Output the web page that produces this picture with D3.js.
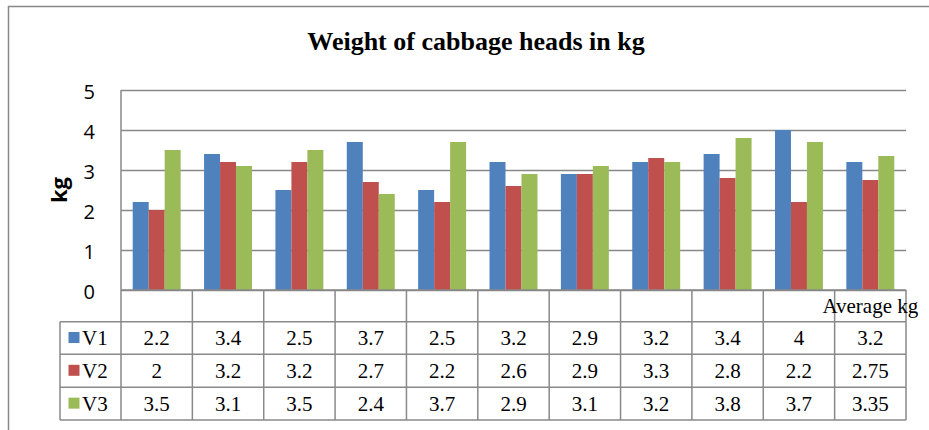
<!DOCTYPE html>
<html>
<head>
<meta charset="utf-8">
<script src="https://cdn.jsdelivr.net/npm/d3@7/dist/d3.min.js"></script>
<style>
  html, body { margin: 0; padding: 0; background: #fff; }
  svg { display: block; }
</style>
</head>
<body>
<svg id="chart" width="929" height="430"></svg>
<script>
// ---- data ----
const title = "Weight of cabbage heads in kg";
const yTitle = "kg";
const categories = ["", "", "", "", "", "", "", "", "", "", "Average kg"];
const seriesNames = ["V1", "V2", "V3"];
const v1 = [2.2, 3.4, 2.5, 3.7, 2.5, 3.2, 2.9, 3.2, 3.4, 4, 3.2];
const v2 = [2, 3.2, 3.2, 2.7, 2.2, 2.6, 2.9, 3.3, 2.8, 2.2, 2.75];
const v3 = [3.5, 3.1, 3.5, 2.4, 3.7, 2.9, 3.1, 3.2, 3.8, 3.7, 3.35];
const v1Labels = ["2.2", "3.4", "2.5", "3.7", "2.5", "3.2", "2.9", "3.2", "3.4", "4", "3.2"];
const v2Labels = ["2", "3.2", "3.2", "2.7", "2.2", "2.6", "2.9", "3.3", "2.8", "2.2", "2.75"];
const v3Labels = ["3.5", "3.1", "3.5", "2.4", "3.7", "2.9", "3.1", "3.2", "3.8", "3.7", "3.35"];
const yTicks = [0, 1, 2, 3, 4, 5];
const colors = ["#4F81BD", "#C0504D", "#9BBB59"];

const seriesValues = [v1, v2, v3];
const seriesLabels = [v1Labels, v2Labels, v3Labels];

// ---- layout ----
const svg = d3.select("#chart");
const plotLeft = 121, plotRight = 906, plotTop = 90, plotBottom = 290;
const tableLeft = 60;
const rowEdges = [290, 321.7, 354.3, 387.3, 420];
const gridColor = "#898989";
const serif = "'Liberation Serif', 'Times New Roman', serif";
const sans = "'Open Sans', 'Noto Sans', sans-serif";

// outer border
svg.append("rect")
  .attr("x", 8.5).attr("y", 6.5).attr("width", 940).attr("height", 440)
  .attr("fill", "none").attr("stroke", gridColor).attr("stroke-width", 1.5);

// title
svg.append("text")
  .attr("x", 476).attr("y", 50)
  .attr("text-anchor", "middle")
  .attr("font-family", serif).attr("font-weight", "bold").attr("font-size", 26)
  .attr("fill", "#000")
  .text(title);

// scales
const x = d3.scaleBand().domain(d3.range(categories.length)).range([plotLeft, plotRight]).paddingInner(0).paddingOuter(0);
const bw = x.bandwidth();
const groupPad = bw * 0.164;
const xs = d3.scaleBand().domain(seriesNames).range([groupPad, bw - groupPad]).padding(0);
const y = d3.scaleLinear().domain([0, 5]).range([plotBottom, plotTop]);

// y axis with gridlines
const yAxis = d3.axisLeft(y).tickValues(yTicks).tickSize(-(plotRight - plotLeft)).tickPadding(26).tickFormat(d3.format("d"));
const gy = svg.append("g").attr("transform", `translate(${plotLeft},0)`).call(yAxis);
gy.select(".domain").remove();
gy.selectAll(".tick line").attr("stroke", gridColor).attr("stroke-width", 1.5);
gy.selectAll(".tick text")
  .attr("font-family", sans).attr("font-size", 20).attr("fill", "#000")
  .attr("dy", "0.4em");

// y title
svg.append("text")
  .attr("transform", `translate(67,${(plotTop + plotBottom) / 2}) rotate(-90)`)
  .attr("text-anchor", "middle")
  .attr("font-family", sans).attr("font-weight", "bold").attr("font-size", 22)
  .attr("fill", "#000")
  .text(yTitle);

// bars
seriesNames.forEach((name, si) => {
  svg.append("g").selectAll("rect")
    .data(seriesValues[si])
    .join("rect")
    .attr("x", (d, i) => x(i) + xs(name))
    .attr("width", xs.bandwidth())
    .attr("y", d => y(d))
    .attr("height", d => y(0) - y(d))
    .attr("fill", colors[si]);
});

// data table lines
const tg = svg.append("g").attr("stroke", gridColor).attr("stroke-width", 1.5).attr("fill", "none");
tg.append("line").attr("x1", plotLeft).attr("x2", plotRight).attr("y1", rowEdges[0]).attr("y2", rowEdges[0]);
rowEdges.slice(1).forEach(ry => {
  tg.append("line").attr("x1", tableLeft).attr("x2", plotRight).attr("y1", ry).attr("y2", ry);
});
tg.append("line").attr("x1", plotLeft).attr("x2", plotLeft).attr("y1", plotTop).attr("y2", rowEdges[4]);
tg.append("line").attr("x1", tableLeft).attr("x2", tableLeft).attr("y1", rowEdges[1]).attr("y2", rowEdges[4]);
d3.range(1, categories.length + 1).forEach(i => {
  const xx = i < categories.length ? x(i) : plotRight;
  tg.append("line").attr("x1", xx).attr("x2", xx).attr("y1", rowEdges[0]).attr("y2", rowEdges[4]);
});

// category labels
svg.append("g").selectAll("text")
  .data(categories)
  .join("text")
  .attr("x", (d, i) => x(i) + bw / 2)
  .attr("y", (rowEdges[0] + rowEdges[1]) / 2 + 7)
  .attr("text-anchor", "middle")
  .attr("font-family", serif).attr("font-size", 21).attr("fill", "#000")
  .text(d => d);

// table rows
seriesNames.forEach((name, si) => {
  const cy = (rowEdges[si + 1] + rowEdges[si + 2]) / 2;
  const g = svg.append("g");
  g.append("rect").attr("x", 68.5).attr("y", cy - 6).attr("width", 11).attr("height", 11).attr("fill", colors[si]);
  g.append("text").attr("x", 82).attr("y", cy + 7)
    .attr("font-family", serif).attr("font-size", 21).attr("fill", "#000").text(name);
  g.selectAll("text.val")
    .data(seriesLabels[si])
    .join("text")
    .attr("class", "val")
    .attr("x", (d, i) => x(i) + bw / 2)
    .attr("y", cy + 7)
    .attr("text-anchor", "middle")
    .attr("font-family", serif).attr("font-size", 21).attr("fill", "#000")
    .text(d => d);
});
</script>
</body>
</html>
